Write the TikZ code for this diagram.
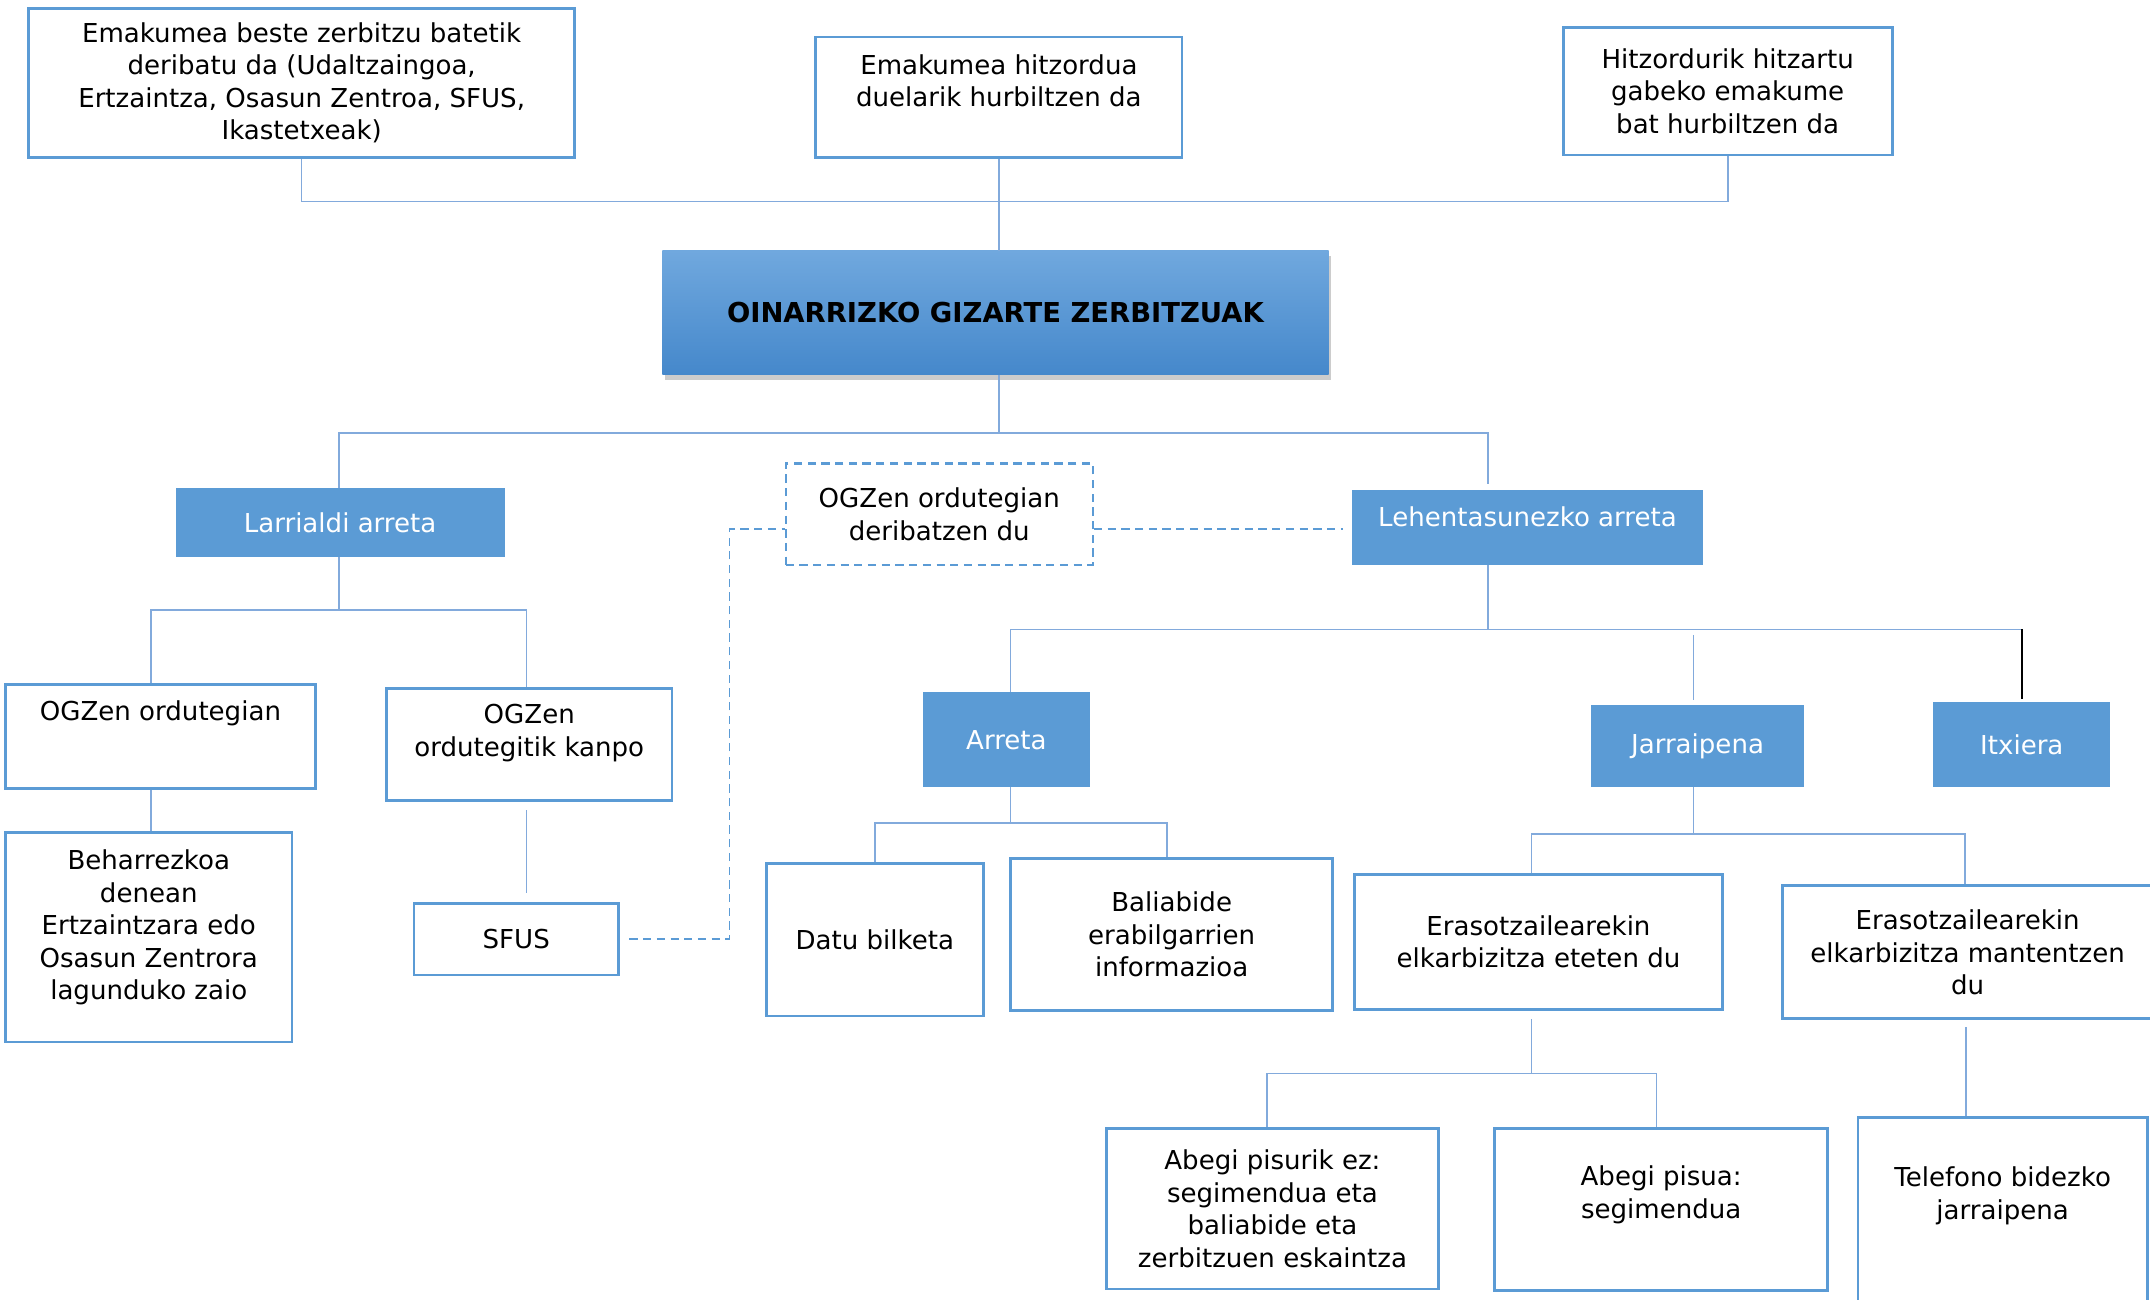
\documentclass[tikz,border=0pt]{standalone}
\usepackage{fontspec}
\setmainfont{DejaVu Sans}
\usepackage{tikz}
\usetikzlibrary{shadows}
\definecolor{boxblue}{HTML}{5B9BD5}
\definecolor{lineblue}{HTML}{82AADC}
\definecolor{titletop}{HTML}{70A8DE}
\definecolor{titlebot}{HTML}{4588CB}

\begin{document}
\begin{tikzpicture}[x=1pt,y=-1pt,
    txt/.style = {align=center, inner sep=0pt, font=\fontsize{19}{23.7}\selectfont},
    obox/.style = {draw=boxblue, line width=2pt, txt},
    dbox/.style = {draw=boxblue, line width=1.6pt, dash pattern=on 6pt off 4pt, txt},
    fbox/.style = {fill=boxblue, text=white, txt},
    tbox/.style = {top color=titletop, bottom color=titlebot, inner sep=0pt,
        drop shadow={shadow xshift=2pt, shadow yshift=-4pt, opacity=0.4},
        font=\bfseries\fontsize{20}{24}\selectfont},
    conn/.style = {draw=lineblue, line width=1.2pt},
    dline/.style = {draw=boxblue, line width=1.4pt, dash pattern=on 6pt off 4pt}]
    \useasboundingbox (0,0) rectangle (1568,948);

    % sarrera bideak
    \node[obox, minimum width=398pt, minimum height=109pt] (emak) at (220,60.5) {Emakumea beste zerbitzu batetik\\deribatu da (Udaltzaingoa,\\Ertzaintza, Osasun Zentroa, SFUS,\\Ikastetxeak)};
    \node[obox, minimum width=267pt, minimum height=88pt] (hitzord) at (728.5,71) {};
    \node[txt] (hitzord-t) at (728.5,59) {Emakumea hitzordua\\duelarik hurbiltzen da};
    \node[obox, minimum width=240pt, minimum height=93pt] (hitzgabe) at (1260,66.5) {Hitzordurik hitzartu\\gabeko emakume\\bat hurbiltzen da};

    \node[tbox, minimum width=486pt, minimum height=90pt] (oinarri) at (726,228) {OINARRIZKO GIZARTE ZERBITZUAK};

    % bigarren maila
    \node[fbox, minimum width=240pt, minimum height=50pt] (larri) at (248,381) {Larrialdi arreta};
    \node[dbox, minimum width=224pt, minimum height=74pt] (deriba) at (685,375) {OGZen ordutegian\\deribatzen du};
    \node[fbox, minimum width=256pt, minimum height=55pt] (lehen) at (1114,384.5) {};
    \node[txt, text=white] (lehen-t) at (1114,377) {Lehentasunezko arreta};

    % larrialdia
    \node[obox, minimum width=226pt, minimum height=76pt] (ogzin) at (117,537) {};
    \node[txt] (ogzin-t) at (117,520) {OGZen ordutegian};
    \node[obox, minimum width=208pt, minimum height=82pt] (ogzkan) at (386,543) {};
    \node[txt] (ogzkan-t) at (386,534.5) {OGZen\\ordutegitik kanpo};
    \node[obox, minimum width=209pt, minimum height=153pt] (behar) at (108.5,683.5) {};
    \node[txt] (behar-t) at (108.5,676.5) {Beharrezkoa\\denean\\Ertzaintzara edo\\Osasun Zentrora\\lagunduko zaio};
    \node[obox, minimum width=149pt, minimum height=52pt] (sfus) at (376.5,685) {SFUS};

    % lehentasunezkoa
    \node[fbox, minimum width=122pt, minimum height=69pt] (arreta) at (734,539.5) {Arreta};
    \node[fbox, minimum width=156pt, minimum height=60pt] (jarrai) at (1238,544) {Jarraipena};
    \node[fbox, minimum width=129pt, minimum height=62pt] (itxi) at (1474.5,543) {Itxiera};
    \node[obox, minimum width=158pt, minimum height=111pt] (datu) at (638,685.5) {Datu bilketa};
    \node[obox, minimum width=235pt, minimum height=111pt] (balia) at (854.5,681.5) {Baliabide\\erabilgarrien\\informazioa};
    \node[obox, minimum width=268pt, minimum height=98pt] (eteten) at (1122,687) {Erasotzailearekin\\elkarbizitza eteten du};
    \node[obox, minimum width=270pt, minimum height=97pt] (manten) at (1435,694.5) {Erasotzailearekin\\elkarbizitza mantentzen\\du};
    \node[obox, minimum width=242pt, minimum height=117pt] (abegiez) at (928,881.5) {Abegi pisurik ez:\\segimendua eta\\baliabide eta\\zerbitzuen eskaintza};
    \node[obox, minimum width=243pt, minimum height=118pt] (abegi) at (1211.5,882) {};
    \node[txt] (abegi-t) at (1211.5,871.5) {Abegi pisua:\\segimendua};
    \node[obox, minimum width=211pt, minimum height=137pt] (telef) at (1460.5,883.5) {};
    \node[txt] (telef-t) at (1460.5,872) {Telefono bidezko\\jarraipena};

    % lotura lerroak
    \coordinate (b1) at (0,147);
    \coordinate (b2) at (0,316);
    \coordinate (b3) at (0,445);
    \coordinate (b4) at (0,459);
    \coordinate (b5) at (0,600);
    \coordinate (b6) at (0,608);
    \coordinate (b7) at (0,783);
    \coordinate (dbend) at (532,386);

    \draw[conn] (emak.south) -- (emak.south |- b1) -- (hitzgabe.south |- b1) -- (hitzgabe.south);
    \draw[conn] (hitzord.south) -- (hitzord.south |- oinarri.north);
    \draw[conn] (hitzord.south |- oinarri.south) -- (hitzord.south |- b2);
    \draw[conn, shorten >=4pt] ([xshift=-1pt]larri.north) -- ([xshift=-1pt]larri.north |- b2) -- ([xshift=-29pt]lehen.north |- b2) -- ([xshift=-29pt]lehen.north);

    \draw[conn] ([xshift=-1pt]larri.south) -- ([xshift=-1pt]larri.south |- b3);
    \draw[conn] ([xshift=-7pt]ogzin.north) -- ([xshift=-7pt]ogzin.north |- b3) -- ([xshift=-2pt]ogzkan.north |- b3) -- ([xshift=-2pt]ogzkan.north);
    \draw[conn] ([xshift=1.5pt]behar.north |- ogzin.south) -- ([xshift=1.5pt]behar.north);
    \draw[conn, shorten <=6pt, shorten >=7pt] ([xshift=-2pt]ogzkan.south) -- ([xshift=-2pt]ogzkan.south |- sfus.north);

    \draw[dline, shorten <=7pt] (sfus.east) -| (dbend) -- (dbend -| deriba.west);
    \draw[dline, shorten >=6pt] (dbend -| deriba.east) -- (dbend -| lehen.west);

    \draw[conn] ([xshift=-29pt]lehen.south) -- ([xshift=-29pt]lehen.south |- b4);
    \draw[conn] ([xshift=3pt]arreta.north) -- ([xshift=3pt]arreta.north |- b4) -- (itxi.north |- b4);
    \draw[conn, shorten <=4pt, shorten >=3pt] ([xshift=-3pt]jarrai.north |- b4) -- ([xshift=-3pt]jarrai.north);
    \draw[black, line width=1.8pt, shorten >=2pt] (itxi.north |- b4) -- (itxi.north);

    \draw[conn] ([xshift=3pt]arreta.south) -- ([xshift=3pt]arreta.south |- b5);
    \draw[conn] (datu.north) -- (datu.north |- b5) -- ([xshift=-3.5pt]balia.north |- b5) -- ([xshift=-3.5pt]balia.north);

    \draw[conn] ([xshift=-3pt]jarrai.south) -- ([xshift=-3pt]jarrai.south |- b6);
    \draw[conn] ([xshift=-5pt]eteten.north) -- ([xshift=-5pt]eteten.north |- b6) -- ([xshift=-2pt]manten.north |- b6) -- ([xshift=-2pt]manten.north);

    \draw[conn, shorten <=6pt] ([xshift=-5pt]eteten.south) -- ([xshift=-5pt]eteten.south |- b7);
    \draw[conn] ([xshift=-4pt]abegiez.north) -- ([xshift=-4pt]abegiez.north |- b7) -- ([xshift=-3.5pt]abegi.north |- b7) -- ([xshift=-3.5pt]abegi.north);
    \draw[conn, shorten <=5pt] ([xshift=-26.5pt]telef.north |- manten.south) -- ([xshift=-26.5pt]telef.north);
\end{tikzpicture}
\end{document}
